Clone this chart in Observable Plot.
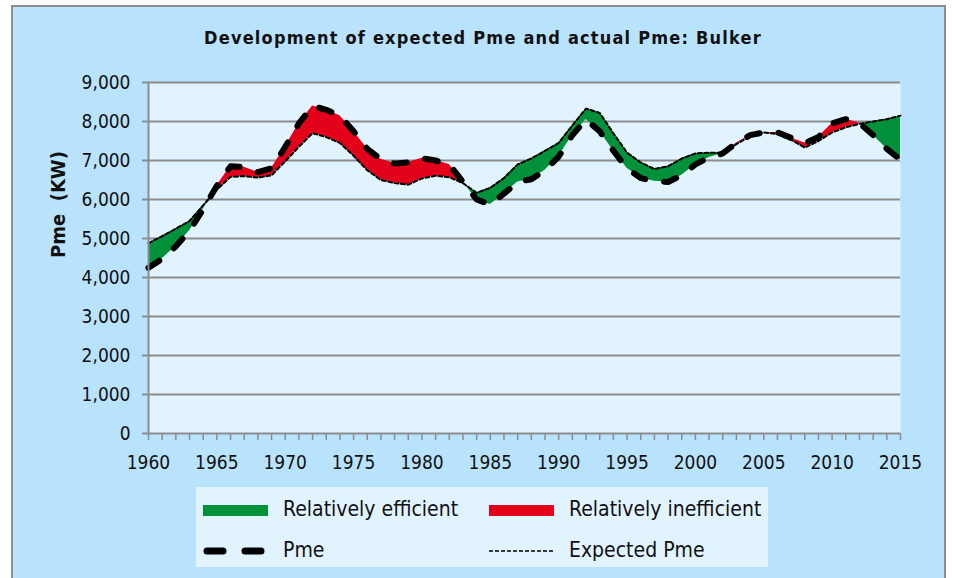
<!DOCTYPE html>
<html>
<head>
<meta charset="utf-8">
<script src="https://cdn.jsdelivr.net/npm/d3@7"></script>
<script src="https://cdn.jsdelivr.net/npm/@observablehq/plot@0.6"></script>
<style>
  html, body { margin: 0; padding: 0; background: #ffffff; }
  #root { position: absolute; left: 0; top: 0; width: 953px; height: 578px; overflow: hidden; background: #ffffff;
          font-family: "DejaVu Sans Condensed", "DejaVu Sans", sans-serif; }
  #panel { position: absolute; left: 11px; top: 5px; width: 935px; height: 590px; box-sizing: border-box;
           background: #b9e3fd; border: 2px solid #8e8e8e; }
  #chart { position: absolute; left: 0; top: 0; }
  #title { position: absolute; left: 0; top: 27px; width: 966px; text-align: center; font-weight: bold;
           font-size: 18px; letter-spacing: 1.2px; color: #111; }
  #legend { position: absolute; left: 196px; top: 487px; width: 572px; height: 80px; background: #e1f3fe; }
  .li { position: absolute; font-size: 21px; color: #111; white-space: nowrap; line-height: 1; }
  .sw { position: absolute; }
</style>
</head>
<body>
<div id="root">
  <div id="panel"></div>
  <div id="chart"></div>
  <div id="title">Development of expected Pme and actual Pme: Bulker</div>
  <div id="legend"></div>
</div>
<script>
const years = [1960,1961,1962,1963,1964,1965,1966,1967,1968,1969,
               1970,1971,1972,1973,1974,1975,1976,1977,1978,1979,
               1980,1981,1982,1983,1984,1985,1986,1987,1988,1989,
               1990,1991,1992,1993,1994,1995,1996,1997,1998,1999,
               2000,2001,2002,2003,2004,2005,2006,2007,2008,2009,
               2010,2011,2012,2013,2014,2015];
const pme = [4250,4480,4800,5200,5750,6350,6850,6830,6700,6800,
             7350,7950,8400,8300,8150,7750,7300,7030,6920,6950,
             7060,7000,6900,6450,6000,5870,6150,6450,6520,6750,
             7100,7650,8050,7750,7250,6800,6550,6470,6450,6620,
             6900,7080,7180,7450,7650,7720,7720,7580,7450,7600,
             7950,8060,7960,7650,7300,7020];
const expectedPme = [4880,5060,5250,5450,5850,6250,6580,6600,6560,6620,
             6980,7350,7700,7600,7450,7120,6750,6500,6420,6380,
             6540,6610,6570,6420,6170,6300,6550,6900,7050,7250,
             7450,7900,8330,8220,7700,7200,6950,6780,6850,7050,
             7180,7200,7200,7420,7620,7720,7680,7530,7330,7500,
             7720,7850,7940,8000,8060,8150];
const yTicks = [0,1000,2000,3000,4000,5000,6000,7000,8000,9000];
const xLabelTicks = [1960,1965,1970,1975,1980,1985,1990,1995,2000,2005,2010,2015];
const seriesNames = ["Relatively efficient","Relatively inefficient","Pme","Expected Pme"];

const GREEN = "#00913a", RED = "#e3001b", GRID = "#8c8c8c";

// table of points
const rows = years.map((year, i) => ({year, pme: pme[i], exp: expectedPme[i]}));
// band table with crossing points inserted so the two fills switch cleanly
const band = [];
for (let i = 0; i < rows.length; i++) {
  band.push(rows[i]);
  if (i < rows.length - 1) {
    const a = rows[i], b = rows[i + 1];
    const d0 = a.exp - a.pme, d1 = b.exp - b.pme;
    if (d0 * d1 < 0) {
      const t = d0 / (d0 - d1);
      const v = a.pme + t * (b.pme - a.pme);
      band.push({year: a.year + t * (b.year - a.year), pme: v, exp: v});
    }
  }
}

const font = '"DejaVu Sans Condensed", "DejaVu Sans", sans-serif';
const chart = Plot.plot({
  width: 953,
  height: 480,
  marginLeft: 148,
  marginRight: 53,
  marginTop: 82,
  marginBottom: 47,
  style: {background: "transparent", fontFamily: font, overflow: "visible"},
  x: {domain: [1960, 2015], label: null},
  y: {domain: [0, 9000], label: null},
  marks: [
    Plot.frame({fill: "#e1f3fe", stroke: null}),
    Plot.gridY(yTicks, {stroke: GRID, strokeOpacity: 1, strokeWidth: 2}),
    Plot.areaY(band, {x: "year", y1: "pme", y2: d => Math.max(d.pme, d.exp), fill: GREEN, curve: "linear"}),
    Plot.areaY(band, {x: "year", y1: "exp", y2: d => Math.max(d.pme, d.exp), fill: RED, curve: "linear"}),
    Plot.line(rows, {x: "year", y: "exp", stroke: "#000", strokeWidth: 2, strokeDasharray: "4,2.5"}),
    Plot.line(rows, {x: "year", y: "pme", stroke: "#000", strokeWidth: 6, strokeDasharray: "13,19", strokeLinecap: "round"}),
    Plot.ruleX([1960], {stroke: GRID, strokeWidth: 2}),
    Plot.axisY({ticks: yTicks, tickFormat: d3.format(","), tickSize: 6, tickPadding: 12, fontSize: 19,
                stroke: GRID, strokeWidth: 2, fill: "#111", label: null}),
    Plot.axisX({ticks: years, tickSize: 7, tickFormat: () => "", stroke: GRID, strokeWidth: 1.5, label: null}),
    Plot.axisX({ticks: xLabelTicks, tickFormat: d => String(d), tickSize: 0, tickPadding: 22, fontSize: 19,
                fill: "#111", label: null}),
    Plot.text(["Pme\u00a0 (KW)"], {frameAnchor: "left", rotate: -90, dx: -90, fontSize: 20, fontWeight: "bold", fill: "#111"})
  ]
});
document.getElementById("chart").appendChild(chart);

// legend
const legend = document.getElementById("legend");
const items = [
  {name: seriesNames[0], x: 11, y: 23, kind: "fill", color: GREEN},
  {name: seriesNames[1], x: 297, y: 23, kind: "fill", color: RED},
  {name: seriesNames[2], x: 11, y: 64, kind: "thick"},
  {name: seriesNames[3], x: 297, y: 64, kind: "thin"}
];
for (const it of items) {
  const svg = d3.create("svg").attr("class", "sw").attr("width", 70).attr("height", 20)
    .style("left", (it.x - 4) + "px").style("top", (it.y - 10) + "px");
  if (it.kind === "fill") {
    svg.append("rect").attr("x", 0).attr("y", 5).attr("width", 65).attr("height", 11).attr("fill", it.color);
  } else if (it.kind === "thick") {
    svg.append("line").attr("x1", 4).attr("x2", 66).attr("y1", 10).attr("y2", 10)
      .attr("stroke", "#000").attr("stroke-width", 7).attr("stroke-linecap", "round").attr("stroke-dasharray", "16,22");
  } else {
    svg.append("line").attr("x1", 0).attr("x2", 65).attr("y1", 10).attr("y2", 10)
      .attr("stroke", "#000").attr("stroke-width", 1.5).attr("stroke-dasharray", "4,2");
  }
  legend.appendChild(svg.node());
  const t = document.createElement("div");
  t.className = "li";
  t.textContent = it.name;
  t.style.left = (it.x + 76) + "px";
  t.style.top = (it.y - 11) + "px";
  legend.appendChild(t);
}
</script>
</body>
</html>
